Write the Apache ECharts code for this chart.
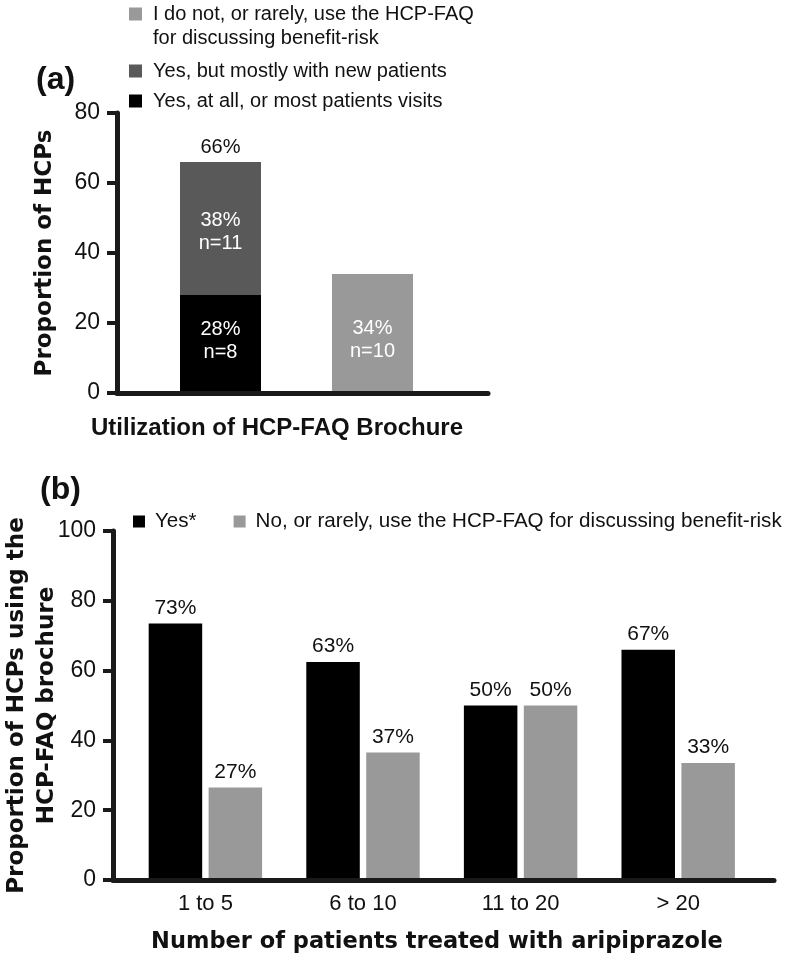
<!DOCTYPE html>
<html>
<head>
<meta charset="utf-8">
<script src="https://cdn.jsdelivr.net/npm/echarts@6/dist/echarts.min.js"></script>
<style>
  html, body { margin: 0; padding: 0; background: #fff; }
  #chart { width: 786px; height: 961px; }
</style>
</head>
<body>
<div id="chart"></div>
<script>
// panel (a): utilization of the brochure
const useCats = ['Yes', 'No'];
const yesAllPct = [28, '-'];
const yesAllN = [8, null];
const yesNewPct = [38, '-'];
const yesNewN = [11, null];
const notUsePct = ['-', 34];
const notUseN = [null, 10];
const aTicks = [0, 20, 40, 60, 80];

// panel (b): by number of patients treated
const patientBins = ['1 to 5', '6 to 10', '11 to 20', '> 20'];
const yesVals = [73.5, 62.5, 50, 66];
const yesLabels = ['73%', '63%', '50%', '67%'];
const noVals = [26.5, 36.5, 50, 33.5];
const noLabels = ['27%', '37%', '50%', '33%'];
const bTicks = [0, 20, 40, 60, 80, 100];

const SANS = '"Liberation Sans", Arial, sans-serif';
const WIDE = '"DejaVu Sans", sans-serif';
const INK = '#1a1a1a';

const nameAll = 'Yes, at all, or most patients visits';
const nameNew = 'Yes, but mostly with new patients';
const nameNot = 'I do not, or rarely, use the HCP-FAQ\nfor discussing benefit-risk';
const nameYes = 'Yes*';
const nameNo = 'No, or rarely, use the HCP-FAQ for discussing benefit-risk';

const totals = yesAllPct.map((v, i) => (v === '-' ? '-' : v + yesNewPct[i]));
const zeroTop = totals.map(v => (v === '-' ? '-' : 0));

const chart = echarts.init(document.getElementById('chart'), null, { renderer: 'canvas' });

// axis that only draws a line (frame), on its own grid
const lineAxis = (grid) => ({
  gridIndex: grid, type: 'value', min: 0, max: 1, z: 5,
  axisLine: { show: true, lineStyle: { color: INK, width: 5 } },
  axisTick: { show: false }, axisLabel: { show: false }, splitLine: { show: false }
});

const valueAxis = (grid, ticks, name, gap) => ({
  gridIndex: grid, type: 'value', z: 5,
  min: ticks[0], max: ticks[ticks.length - 1], interval: ticks[1] - ticks[0],
  axisLine: { show: true, lineStyle: { color: INK, width: 5 } },
  axisTick: { show: true, length: 10, lineStyle: { color: INK, width: 4 } },
  axisLabel: { fontFamily: SANS, fontSize: 23, color: '#111', margin: 17 },
  splitLine: { show: false },
  name: name, nameLocation: 'middle', nameGap: gap, nameMoveOverlap: false,
  nameTextStyle: { fontFamily: WIDE, fontWeight: 'bold', fontSize: 23, color: '#111', lineHeight: 30 }
});

const hiddenValue = (grid, ticks) => ({
  gridIndex: grid, type: 'value', show: false,
  min: ticks[0], max: ticks[ticks.length - 1], splitLine: { show: false }
});

const innerLabel = (counts, dy) => ({
  show: true, position: 'inside', offset: [0, dy], color: '#fff', fontFamily: SANS, fontSize: 20, lineHeight: 23,
  formatter: p => p.value + '%\nn=' + counts[p.dataIndex]
});

const topLabel = (texts) => ({
  show: true, position: 'top', distance: 5, color: '#111', fontFamily: SANS, fontSize: 21,
  formatter: p => texts[p.dataIndex]
});

const legendText = { fontFamily: SANS, fontSize: 20, color: '#111', lineHeight: 24, padding: [0, 0, 0, 6] };
const legendBase = { orient: 'vertical', left: 129, padding: 0, icon: 'rect', itemWidth: 13, itemHeight: 13, selectedMode: false };

const option = {
  animation: false,
  backgroundColor: '#fff',
  title: [
    { text: '(a)', left: 36, top: 64, padding: 0, textStyle: { fontFamily: SANS, fontWeight: 'bold', fontSize: 32, color: '#111' } },
    { text: '(b)', left: 40, top: 474, padding: 0, textStyle: { fontFamily: SANS, fontWeight: 'bold', fontSize: 32, color: '#111' } },
    { text: 'Utilization of HCP-FAQ Brochure', left: 277, top: 416, textAlign: 'center', padding: 0,
      textStyle: { fontFamily: SANS, fontWeight: 'bold', fontSize: 24, color: '#111' } },
    { text: 'Number of patients treated with aripiprazole', left: 437, top: 931, textAlign: 'center', padding: 0,
      textStyle: { fontFamily: WIDE, fontWeight: 'bold', fontSize: 22.5, color: '#111' } }
  ],
  legend: [
    // the square sits at the top of a taller icon box so it lines up with the first text line
    Object.assign({}, legendBase, { data: [nameNot], top: 2, itemHeight: 37,
      icon: 'path://M0,0L13,0L13,13L0,13Z M0,37L0.01,37', textStyle: legendText }),
    Object.assign({}, legendBase, { data: [nameNew], top: 59, textStyle: legendText }),
    Object.assign({}, legendBase, { data: [nameAll], top: 89, textStyle: legendText }),
    { orient: 'horizontal', left: 133, top: 511, padding: 0, icon: 'rect', itemWidth: 12, itemHeight: 12,
      itemGap: 37, selectedMode: false, data: [nameYes, nameNo],
      textStyle: { fontFamily: SANS, fontSize: 20.6, color: '#111', padding: [0, 0, 0, 5] } }
  ],
  grid: [
    { left: 117, top: 113, width: 371, height: 280, outerBoundsMode: 'none' },
    { left: 144.5, top: 113, width: 304, height: 280, outerBoundsMode: 'none' },
    { left: 113, top: 531, width: 661, height: 349, outerBoundsMode: 'none' },
    { left: 126.6, top: 531, width: 630.4, height: 349, outerBoundsMode: 'none' }
  ],
  xAxis: [
    lineAxis(0),
    { gridIndex: 1, type: 'category', data: useCats, show: false },
    lineAxis(2),
    { gridIndex: 3, type: 'category', data: patientBins,
      axisLine: { show: false }, axisTick: { show: false },
      axisLabel: { fontFamily: SANS, fontSize: 22, color: '#111', margin: 13 } }
  ],
  yAxis: [
    valueAxis(0, aTicks, 'Proportion of HCPs', 57),
    hiddenValue(1, aTicks),
    valueAxis(2, bTicks, 'Proportion of HCPs using the\nHCP-FAQ brochure', 51),
    hiddenValue(3, bTicks)
  ],
  series: [
    { name: nameAll, type: 'bar', xAxisIndex: 1, yAxisIndex: 1, stack: 'a', stackStrategy: 'all',
      barWidth: 81, barGap: '-100%', data: yesAllPct, itemStyle: { color: '#000' }, label: innerLabel(yesAllN, -3) },
    { name: nameNew, type: 'bar', xAxisIndex: 1, yAxisIndex: 1, stack: 'a', stackStrategy: 'all',
      barWidth: 81, barGap: '-100%', data: yesNewPct, itemStyle: { color: '#595959' }, label: innerLabel(yesNewN, 3) },
    { name: 'total', type: 'bar', xAxisIndex: 1, yAxisIndex: 1, stack: 'a', stackStrategy: 'all',
      barWidth: 81, barGap: '-100%', data: zeroTop, itemStyle: { color: 'transparent' },
      label: { show: true, position: 'top', distance: 5, color: '#111', fontFamily: SANS, fontSize: 20,
        formatter: p => totals[p.dataIndex] + '%' } },
    { name: nameNot, type: 'bar', xAxisIndex: 1, yAxisIndex: 1,
      barWidth: 81, barGap: '-100%', data: notUsePct, itemStyle: { color: '#999999' }, label: innerLabel(notUseN, 6) },

    { name: nameYes, type: 'bar', xAxisIndex: 3, yAxisIndex: 3, barWidth: 53.5, barGap: '12%',
      data: yesVals, itemStyle: { color: '#000' }, label: topLabel(yesLabels) },
    { name: nameNo, type: 'bar', xAxisIndex: 3, yAxisIndex: 3, barWidth: 53.5, barGap: '12%',
      data: noVals, itemStyle: { color: '#999999' }, label: topLabel(noLabels) }
  ]
};

chart.setOption(option);
</script>
</body>
</html>
